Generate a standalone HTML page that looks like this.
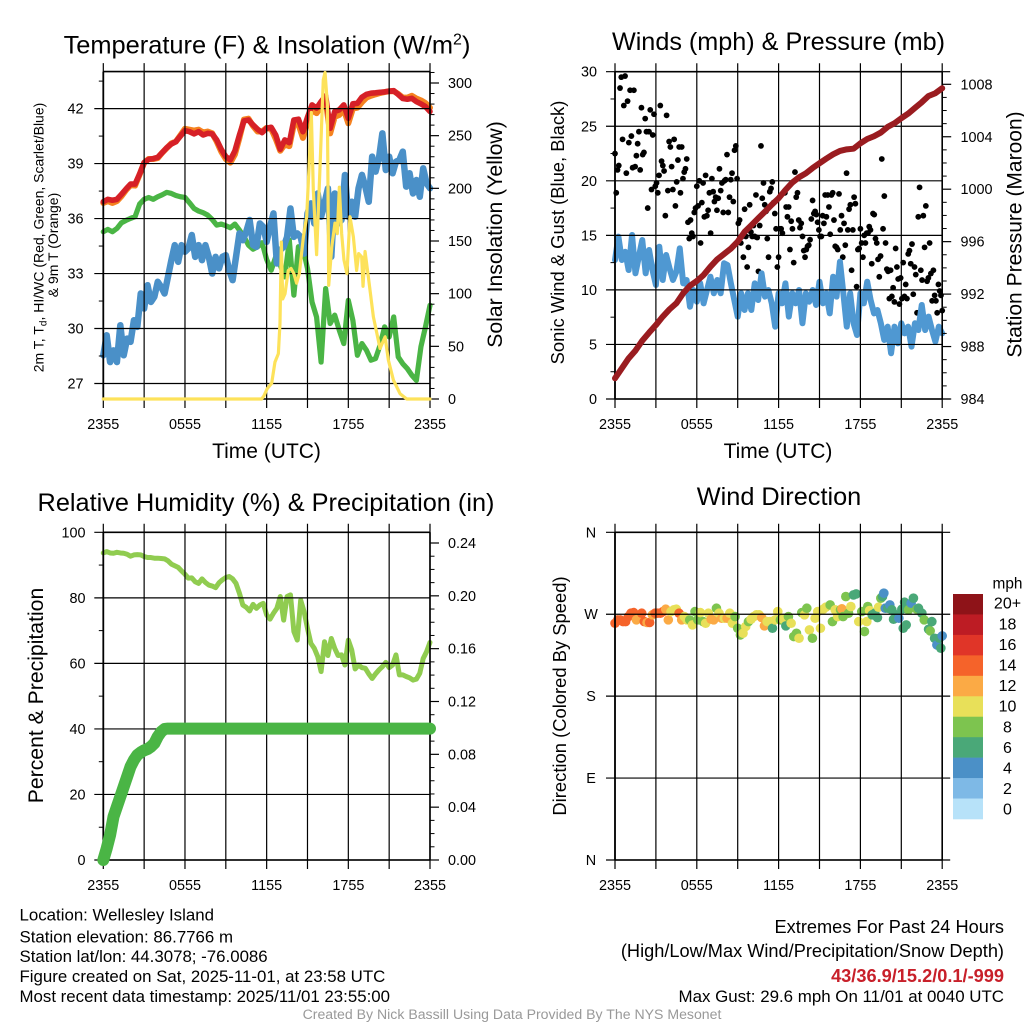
<!DOCTYPE html>
<html>
<head>
<meta charset="utf-8">
<title>Wellesley Island Meteogram</title>
<style>
html,body{margin:0;padding:0;background:#fff;}
svg{display:block;font-family:"Liberation Sans",sans-serif;fill:#000;}
</style>
</head>
<body>
<svg id="chart" width="1024" height="1024" viewBox="0 0 1024 1024" xmlns="http://www.w3.org/2000/svg">
<rect x="0" y="0" width="1024" height="1024" fill="#fff"/>

<g id="p1-left"></g>
<g id="p1-grid"></g>
<g id="p1-right"></g>
<g id="p2-left"></g>
<g id="p2-grid"></g>
<g id="p2-right"></g>
<g id="p3-left"></g>
<g id="p3-grid"></g>
<g id="p3-right"></g>
<g id="p4-left"></g>
<g id="p4-grid"></g>
<g id="legend"></g>

<text x="267" y="53.5" font-size="25.4" text-anchor="middle">Temperature (F) &amp; Insolation (W/m<tspan font-size="16" dy="-9">2</tspan><tspan dy="9">)</tspan></text>
<text x="778.5" y="50" font-size="25.2" text-anchor="middle">Winds (mph) &amp; Pressure (mb)</text>
<text x="266" y="511" font-size="25.3" text-anchor="middle">Relative Humidity (%) &amp; Precipitation (in)</text>
<text x="779" y="505" font-size="25.3" text-anchor="middle">Wind Direction</text>

<text x="266.5" y="458" font-size="21" text-anchor="middle">Time (UTC)</text>
<text x="778" y="458" font-size="21" text-anchor="middle">Time (UTC)</text>

<text transform="translate(43.5,237.5) rotate(-90)" font-size="14" text-anchor="middle">2m T, T<tspan font-size="10" dy="3">d</tspan><tspan dy="-3">, HI/WC (Red, Green, Scarlet/Blue)</tspan></text>
<text transform="translate(58,245) rotate(-90)" font-size="14" text-anchor="middle">&amp; 9m T (Orange)</text>
<text transform="translate(502,234.5) rotate(-90)" font-size="21.2" text-anchor="middle">Solar Insolation (Yellow)</text>
<text transform="translate(564,232.5) rotate(-90)" font-size="18.4" text-anchor="middle">Sonic Wind &amp; Gust (Blue, Black)</text>
<text transform="translate(1021.5,234.5) rotate(-90)" font-size="21" text-anchor="middle">Station Pressure (Maroon)</text>
<text transform="translate(43,695.5) rotate(-90)" font-size="21.2" text-anchor="middle">Percent &amp; Precipitation</text>
<text transform="translate(566,696) rotate(-90)" font-size="18.4" text-anchor="middle">Direction (Colored By Speed)</text>

<g font-size="16.85">
<text x="19.5" y="920.7">Location: Wellesley Island</text>
<text x="19.5" y="942.5">Station elevation: 86.7766 m</text>
<text x="19.5" y="962">Station lat/lon: 44.3078; -76.0086</text>
<text x="19.5" y="982">Figure created on Sat, 2025-11-01, at 23:58 UTC</text>
<text x="19.5" y="1002">Most recent data timestamp: 2025/11/01 23:55:00</text>
</g>
<g font-size="18.2" text-anchor="end">
<text x="1004" y="933">Extremes For Past 24 Hours</text>
<text x="1004" y="957">(High/Low/Max Wind/Precipitation/Snow Depth)</text>
<text x="1004" y="982" font-weight="bold" font-size="18.2" fill="#c8202a">43/36.9/15.2/0.1/-999</text>
<text x="1004" y="1002" font-size="16.9">Max Gust: 29.6 mph On 11/01 at 0040 UTC</text>
</g>
<text x="512" y="1019" font-size="14.1" text-anchor="middle" fill="#999">Created By Nick Bassill Using Data Provided By The NYS Mesonet</text>
</svg>

<script>
const hourTicks = [0, 3, 6, 9, 12, 15, 18, 21, 24];
const hourLabelValues = [0, 6, 12, 18, 24];
const hourLabels = ['2355', '0555', '1155', '1755', '2355'];

const tempTicks = [27, 30, 33, 36, 39, 42];
const tempMinorTicks = [28.5, 31.5, 34.5, 37.5, 40.5, 43.5];
const solarTicks = [0, 50, 100, 150, 200, 250, 300];
const solarMinorTicks = [10, 20, 30, 40, 60, 70, 80, 90, 110, 120, 130, 140, 160, 170, 180, 190, 210, 220, 230, 240, 260, 270, 280, 290, 310];
const windTicks = [0, 5, 10, 15, 20, 25, 30];
const windMinorTicks = [2.5, 7.5, 12.5, 17.5, 22.5, 27.5];
const pressureTicks = [984, 988, 992, 996, 1000, 1004, 1008];
const pressureMinorTicks = [985, 986, 987, 989, 990, 991, 993, 994, 995, 997, 998, 999, 1001, 1002, 1003, 1005, 1006, 1007];
const rhTicks = [0, 20, 40, 60, 80, 100];
const rhMinorTicks = [10, 30, 50, 70, 90];
const precipTicks = [0, 0.04, 0.08, 0.12, 0.16, 0.20, 0.24];
const precipMinorTicks = [0.01, 0.02, 0.03, 0.05, 0.06, 0.07, 0.09, 0.10, 0.11, 0.13, 0.14, 0.15, 0.17, 0.18, 0.19, 0.21, 0.22, 0.23];
const dirTicks = [0, 90, 180, 270, 360];
const dirLabels = ['N', 'E', 'S', 'W', 'N'];

const temp2m = [36.92,37.05,37.0,37.05,37.32,37.61,37.88,37.88,38.43,39.05,39.23,39.27,39.34,39.6,39.87,40.07,40.2,40.5,40.8,40.74,40.62,40.74,40.56,40.65,40.62,40.29,39.78,39.38,39.2,39.69,40.56,41.33,41.38,41.11,40.87,40.69,40.93,40.98,40.56,39.78,40.29,40.14,41.38,41.42,40.74,41.53,42.2,42.02,42.38,42.69,40.93,41.84,41.93,42.2,41.47,42.26,42.29,42.62,42.78,42.84,42.86,42.89,42.91,42.95,42.98,42.77,42.55,42.51,42.56,42.38,42.26,42.11,41.84];
const temp9m = [36.85,36.95,36.85,36.95,37.22,37.55,37.82,37.8,38.4,39.05,39.25,39.25,39.3,39.6,39.85,40.1,40.2,40.55,40.9,40.85,40.8,40.85,40.7,40.75,40.65,40.2,39.65,39.25,39.05,39.5,40.4,41.4,41.45,41.05,40.75,40.75,40.95,40.9,40.35,39.7,40.05,39.95,41.15,41.15,40.4,41.25,41.95,41.75,42.1,42.45,40.65,41.55,41.65,41.95,41.2,42.0,42.05,42.35,42.6,42.7,42.78,42.85,42.9,42.95,42.95,42.8,42.6,42.6,42.7,42.55,42.45,42.3,42.05];
const dewpoint = [35.28,35.41,35.28,35.46,35.77,35.9,36.01,36.1,36.79,37.05,37.15,37.05,37.19,37.3,37.43,37.37,37.26,37.19,37.15,36.86,36.55,36.41,36.32,36.19,35.95,35.64,35.7,35.61,35.5,35.7,35.37,35.01,34.55,34.33,34.46,34.68,33.77,33.18,33.91,33.46,32.82,34.82,31.82,34.46,34.37,33.28,31.45,30.63,28.17,32.18,30.27,30.73,29.91,29.18,31.54,30.45,28.54,29.18,28.81,28.27,28.36,29.09,30.09,29.54,30.63,28.45,28.08,27.81,27.45,27.17,29.0,30.09,31.27];
const windChill = [28.54,29.63,28.17,28.81,28.17,30.18,28.54,29.45,29.27,30.45,30.09,31.91,31.09,32.36,31.45,31.73,32.55,32.27,31.91,32.82,33.73,34.55,33.64,34.55,34.19,34.37,35.1,33.91,34.55,33.73,34.55,33.91,33.0,33.91,33.28,33.91,34.0,33.18,32.64,33.91,35.19,34.82,35.28,35.92,34.55,34.46,35.73,35.55,34.73,35.55,36.28,33.55,34.28,34.46,35.0,36.55,35.0,35.19,35.0,34.09,36.28,36.83,35.73,37.37,36.1,36.83,37.65,33.91,37.37,35.73,35.92,38.38,36.1,36.92,36.1,37.65,38.38,37.74,36.92,39.38,38.56,39.29,40.65,38.65,39.38,38.47,39.1,39.2,39.65,37.74,38.47,37.37,38.1,37.19,38.74,37.92,37.65];
const solarHours = [0,11.63,11.8,12.05,12.37,12.61,12.86,12.98,13.08,13.18,13.35,13.59,13.79,14.0,14.2,14.4,14.7,14.94,15.14,15.28,15.43,15.67,15.92,16.16,16.29,16.46,16.56,16.78,17.02,17.19,17.34,17.51,17.68,17.9,18.12,18.37,18.61,18.76,18.98,19.08,19.23,19.47,19.84,20.33,20.7,20.94,21.31,21.8,22.29,24];
const solarValues = [0,0,3,10,15,35,43,72,149,95,100,122,124,119,110,119,154,173,227,272,198,137,220,303,310,280,108,144,167,157,201,157,132,119,173,154,122,138,135,107,140,116,78,48,59,37,18,5,0,0];

const gustValues = [22.5,18.9,21.0,21.4,28.5,29.5,23.8,26.9,29.6,20.7,27.3,23.5,28.3,24.1,21.2,28.3,21.3,22.3,23.4,24.5,21.0,26.7,22.4,22.6,25.7,24.5,17.5,24.5,26.5,19.2,24.2,26.1,19.5,19.8,18.9,20.5,26.9,21.8,21.4,20.9,16.8,26.0,19.1,23.6,23.1,21.3,19.2,23.8,17.7,19.9,21.9,23.1,18.9,23.1,20.2,20.8,21.1,22.0,16.2,14.7,16.4,15.2,14.9,17.1,17.5,19.5,17.7,20.0,14.3,18.0,19.8,16.7,20.5,16.8,17.3,18.9,15.2,20.2,19.0,18.1,18.5,17.3,18.4,21.1,19.1,19.8,17.1,20.0,20.1,22.4,17.1,18.5,20.1,20.7,18.1,22.8,23.2,20.2,16.1,16.4,14.3,14.9,13.0,17.4,14.9,12.1,13.9,17.8,15.3,14.9,15.9,14.9,18.7,14.8,11.7,15.9,23.2,18.4,19.8,17.8,17.2,14.7,13.0,19.0,19.3,19.9,18.0,17.0,15.6,12.1,13.0,15.6,15.6,15.2,9.9,18.9,17.6,16.7,17.6,13.7,16.3,15.6,12.5,20.8,18.5,18.9,16.4,15.7,16.1,14.9,13.6,13.0,13.7,14.0,14.1,14.6,16.5,18.2,17.0,17.2,16.9,16.2,15.5,14.9,14.9,16.8,16.1,18.7,16.7,18.7,17.6,15.1,18.7,18.9,16.4,14.0,13.9,13.7,18.8,15.5,16.8,13.0,16.1,14.1,20.7,15.5,17.4,17.8,11.8,15.5,18.5,17.9,10.3,13.7,13.8,15.6,14.3,13.0,15.0,14.3,15.2,15.2,15.8,15.5,12.4,17.0,16.9,14.7,14.3,12.8,11.2,13.1,22.0,15.6,18.6,14.3,11.9,11.7,9.2,11.8,9.4,10.2,8.9,13.8,12.1,11.0,8.7,11.1,9.2,12.5,9.4,10.5,9.2,13.3,13.6,12.4,14.2,9.6,12.1,11.4,7.9,16.7,19.4,11.8,10.9,16.8,13.9,17.7,10.8,11.1,14.3,11.5,9.0,11.8,9.5,9.0,7.9,10.5,9.9,9.5,8.1];
const windSpeed = [12.74,14.88,12.74,13.5,11.82,15.03,11.52,13.05,14.57,11.52,13.66,11.82,10.45,13.96,10.91,13.2,11.98,10.91,11.67,13.81,10.6,10.91,8.46,9.99,8.92,10.6,8.77,9.99,11.21,9.69,10.91,9.69,12.44,12.28,10.6,9.07,7.55,9.69,8.16,9.69,8.16,10.6,9.07,11.52,9.38,9.99,8.77,6.63,9.69,8.77,10.6,7.55,9.69,8.77,9.99,6.94,9.69,8.92,9.99,8.62,10.75,8.77,9.69,7.85,11.21,9.38,12.59,9.69,6.63,9.69,6.94,5.87,9.69,8.77,10.75,9.07,7.85,8.16,6.94,5.41,6.63,4.19,6.63,5.1,6.94,6.02,6.63,4.8,6.94,6.32,8.62,6.32,7.55,6.32,5.26,6.63,6.02];
const pressure = [985.58,986.34,987.10,987.69,988.45,989.06,989.64,990.28,990.84,991.30,992.06,992.64,993.0,993.46,994.09,994.65,995.06,995.47,996.0,996.74,997.25,997.78,998.29,998.82,999.31,999.94,1000.5,1000.91,1001.21,1001.62,1001.98,1002.33,1002.66,1002.92,1003.04,1003.09,1003.5,1003.83,1004.04,1004.32,1004.75,1005.03,1005.41,1005.76,1006.2,1006.63,1007.11,1007.32,1007.7];

const humidity = [93.7,94.1,93.7,93.6,93.9,93.7,93.6,93.3,92.7,93.1,93.2,93.1,92.6,92.3,92.3,92.1,92.1,92.0,91.9,91.3,90.3,89.8,89.3,88.2,87.2,86.0,86.1,84.9,84.4,85.8,84.7,83.9,83.6,83.1,84.6,85.5,86.2,86.5,85.8,84.4,81.4,77.8,77.1,76.0,78.0,76.8,77.8,78.3,74.8,73.5,75.3,76.8,80.4,73.2,80.4,80.9,69.7,67.1,79.3,75.8,70.7,66.1,64.6,62.1,57.5,66.6,62.4,67.6,64.6,62.4,62.6,59.5,67.1,64.1,58.3,59.5,58.7,58.5,56.8,55.4,56.8,58.0,59.0,60.3,58.7,59.5,62.6,56.5,56.5,56.0,55.6,54.9,55.2,57.0,61.5,63.6,66.4];
const precipHours = [0,0.25,0.5,0.75,1,1.25,1.5,1.75,2,2.25,2.5,2.75,3,3.25,3.5,3.75,4,4.25,4.5,4.75,6,9,12,15,18,21,24];
const precipValues = [0,0.0088,0.0189,0.0328,0.0404,0.0479,0.0555,0.0631,0.0707,0.0757,0.0795,0.0815,0.083,0.084,0.0858,0.0883,0.0934,0.0971,0.0992,0.0995,0.0995,0.0995,0.0995,0.0995,0.0995,0.0995,0.0995];

const dirHours = [0,0.2,0.39,0.59,0.78,0.98,1.17,1.37,1.57,1.76,1.96,2.15,2.35,2.54,2.74,2.94,3.13,3.33,3.52,3.72,3.91,4.11,4.31,4.5,4.7,4.89,5.09,5.28,5.48,5.68,5.87,6.07,6.26,6.46,6.65,6.85,7.05,7.24,7.44,7.63,7.83,8.02,8.22,8.42,8.61,8.81,9.0,9.2,9.39,9.59,9.79,9.98,10.18,10.37,10.57,10.76,10.96,11.16,11.35,11.55,11.74,11.94,12.13,12.33,12.53,12.72,12.92,13.11,13.31,13.5,13.7,13.9,14.07,14.26,14.48,14.68,14.87,15.07,15.27,15.46,15.78,15.95,16.15,16.34,16.54,16.64,16.73,16.93,17.13,17.3,17.49,17.69,17.88,18.1,18.3,18.47,18.54,18.67,18.86,19.06,19.25,19.33,19.5,19.62,19.72,19.82,20.01,20.16,20.31,20.43,20.62,20.82,21.04,21.14,21.24,21.36,21.53,21.72,21.89,22.14,22.26,22.51,22.68,23.0,23.12,23.24,23.44,23.61,23.8,23.9,24];
const dirDegrees = [260.1,263.8,263.8,261.9,261.9,267.4,271.1,271.8,263.8,265.6,271.1,261.9,260.9,260.9,269.3,271.1,271.1,271.1,272.9,275.5,263.8,272.9,274.8,275.5,271.1,263.8,267.4,263.8,263.8,258.3,272.9,263.8,271.8,261.9,260.1,271.1,264.5,263.8,276.6,271.1,265.6,265.6,265.6,271.1,260.1,267.4,254.6,247.3,249.1,256.5,261.9,264.5,267.4,269.3,269.3,266.3,257.2,261.9,261.9,254.6,263.8,272.9,263.8,264.5,257.2,267.4,260.1,245.5,249.1,243.6,271.8,269.3,276.6,252.8,243.6,265.6,272.9,254.6,275.5,277.7,280.2,261.9,274.8,267.4,274.8,275.9,267.4,289.4,271.1,278.4,291.2,292.3,261.9,272.9,251,261.9,278.4,274,269.3,271.1,266.3,277.7,287.6,289.4,293.1,276.6,276.6,280.2,274.8,264.5,269.3,265.6,275.5,254.6,283.2,258.3,274.8,282.1,287.6,275.5,276.6,271.1,263.8,253.5,251.7,261.9,243.6,236.3,243.6,232.7,246.2];
const dirSpeeds = [14,14,14,14,14,14,14,14,12,12,14,14,12,14,12,14,14,14,14,12,12,10,10,10,14,12,10,10,8,10,8,8,10,8,10,10,12,12,8,10,12,10,12,10,10,8,8,8,10,10,8,10,10,10,10,12,12,10,10,6,10,10,8,10,6,8,10,8,8,10,8,10,8,10,8,10,10,10,10,10,8,8,10,10,8,12,8,8,8,10,6,6,10,8,8,10,8,10,6,6,6,10,8,6,4,4,6,4,6,6,6,4,6,6,6,6,8,4,6,8,6,6,8,6,8,6,6,4,6,6,4];

const legendColors = ['#b7e2f9', '#7eb9e6', '#4b90c7', '#4aa878', '#7dc44f', '#e8e059', '#fbaa45', '#f5632a', '#e03528', '#bd1c24', '#8e1318'];
const legendLabels = ['0', '2', '4', '6', '8', '10', '12', '14', '16', '18', '20+'];

const NS = 'http://www.w3.org/2000/svg';
const linear = (d0, d1, r0, r1) => v => r0 + (v - d0) * (r1 - r0) / (d1 - d0);
const uniformHours = values => values.map((v, i) => i / (values.length - 1) * 24);

function addLine(parent, name, x1, y1, x2, y2, width) {
  const el = document.createElementNS(NS, 'line');
  
  
  el.setAttribute('x1', x1);
  el.setAttribute('y1', y1);
  el.setAttribute('x2', x2);
  el.setAttribute('y2', y2);
  el.setAttribute('stroke', '#000');
  el.setAttribute('stroke-width', width);
  parent.appendChild(el);
}
function addText(parent, name, x, y, str, anchor, size) {
  const el = document.createElementNS(NS, 'text');
  
  
  el.setAttribute('x', x);
  el.setAttribute('y', y);
  el.setAttribute('text-anchor', anchor);
  el.setAttribute('font-size', size);
  el.textContent = str;
  parent.appendChild(el);
}
function addSeries(parent, name, hours, values, xScale, yScale, color, width) {
  const el = document.createElementNS(NS, 'path');
  
  
  const d = values.map((v, i) => (i ? 'L' : 'M') + xScale(hours[i]).toFixed(2) + ' ' + yScale(v).toFixed(2)).join('');
  el.setAttribute('d', d);
  el.setAttribute('fill', 'none');
  el.setAttribute('stroke', color);
  el.setAttribute('stroke-width', width);
  el.setAttribute('stroke-linejoin', 'round');
  el.setAttribute('stroke-linecap', 'round');
  parent.appendChild(el);
}
function addDot(parent, name, cx, cy, r, color) {
  const el = document.createElementNS(NS, 'circle');
  
  
  el.setAttribute('cx', cx.toFixed(2));
  el.setAttribute('cy', cy.toFixed(2));
  el.setAttribute('r', r);
  el.setAttribute('fill', color);
  parent.appendChild(el);
}

const TICK_FONT = 14.4;
function drawAxes(g, prefix, box, xScale, leftScale, leftTicks, leftMinor, leftLabel, leftLabelX, rightScale, rightTicks, rightMinor, rightLabel, rightLabelX, leftOver) {
  hourTicks.forEach(h => addLine(g, prefix + '-time-gridline', xScale(h), box.T - 8.5, xScale(h), box.B + 9, 1.2));
  hourLabelValues.forEach((h, i) => addText(g, prefix + '-time-tick-label', xScale(h), box.B + 30, hourLabels[i], 'middle', TICK_FONT));
  leftTicks.forEach((v, i) => {
    addLine(g, prefix + '-left-gridline', box.L - 9, leftScale(v), box.R + leftOver, leftScale(v), 1.2);
    addText(g, prefix + '-left-tick-label', leftLabelX, leftScale(v) + 5, leftLabel(v, i), prefix === 'direction' ? 'middle' : 'end', TICK_FONT);
  });
  leftMinor.forEach(v => addLine(g, prefix + '-left-minor-tick', box.L - 4.5, leftScale(v), box.L, leftScale(v), 1));
  if (rightScale) {
    rightTicks.forEach(v => {
      addLine(g, prefix + '-right-tick', box.R, rightScale(v), box.R + 9, rightScale(v), 1.2);
      addText(g, prefix + '-right-tick-label', rightLabelX, rightScale(v) + 5, rightLabel(v), 'start', TICK_FONT);
    });
    rightMinor.forEach(v => addLine(g, prefix + '-right-minor-tick', box.R, rightScale(v), box.R + 4.5, rightScale(v), 1));
  }
  addLine(g, prefix + '-frame-left', box.L, box.T, box.L, box.B, 1.8);
  addLine(g, prefix + '-frame-right', box.R, box.T, box.R, box.B, 1.6);
  addLine(g, prefix + '-frame-top', box.L, box.T, box.R, box.T, 1.6);
  addLine(g, prefix + '-frame-bottom', box.L, box.B, box.R, box.B, 1.6);
}

const $ = id => document.getElementById(id);

/* Temperature and insolation panel */
const box1 = { L: 103.3, R: 430, T: 71.6, B: 399 };
const x1 = linear(0, 24, box1.L, box1.R);
const yTemp = linear(27, 42, 383.5, 108.6);
const ySolar = linear(0, 300, 399, 83);
addSeries($('p1-left'), 'series-9m-temperature', uniformHours(temp9m), temp9m, x1, yTemp, '#f58220', 6);
addSeries($('p1-left'), 'series-2m-temperature', uniformHours(temp2m), temp2m, x1, yTemp, '#d62027', 5.6);
addSeries($('p1-left'), 'series-dewpoint', uniformHours(dewpoint), dewpoint, x1, yTemp, '#4ab545', 5.2);
addSeries($('p1-left'), 'series-wind-chill', uniformHours(windChill), windChill, x1, yTemp, '#4a90c8', 6.5);
drawAxes($('p1-grid'), 'temperature', box1, x1, yTemp, tempTicks, tempMinorTicks, v => String(v), 83.5, ySolar, solarTicks, solarMinorTicks, v => String(v), 448, 0);
addSeries($('p1-right'), 'series-solar-insolation', solarHours, solarValues, x1, ySolar, '#fde25a', 3.2);

/* Winds and pressure panel */
const box2 = { L: 615, R: 942.2, T: 71.7, B: 399 };
const x2 = linear(0, 24, box2.L, box2.R);
const yWind = linear(0, 30, 399, 71.7);
const yPressure = linear(984, 1008, 399, 84.3);
const gustHours = uniformHours(gustValues);
gustValues.forEach((v, i) => addDot($('p2-left'), 'gust-point', x2(gustHours[i]), yWind(v), 2.9, '#000'));
addSeries($('p2-left'), 'series-sonic-wind', uniformHours(windSpeed), windSpeed, x2, yWind, '#4f98d2', 6);
drawAxes($('p2-grid'), 'winds', box2, x2, yWind, windTicks, windMinorTicks, v => String(v), 597, yPressure, pressureTicks, pressureMinorTicks, v => String(v), 960.5, 0);
addLine($('p2-grid'), 'winds-top-tick-right', box2.R, box2.T, box2.R + 8, box2.T, 1.2);
addLine($('p2-grid'), 'winds-bottom-tick-right', box2.R, box2.B, box2.R + 8, box2.B, 1.2);
addSeries($('p2-right'), 'series-station-pressure', uniformHours(pressure), pressure, x2, yPressure, '#9a1c20', 6);

/* Humidity and precipitation panel */
const box3 = { L: 103.3, R: 430, T: 532.3, B: 860 };
const x3 = linear(0, 24, box3.L, box3.R);
const yRh = linear(0, 100, 860, 532.3);
const yPrecip = linear(0, 0.24, 860, 543);
addSeries($('p3-left'), 'series-relative-humidity', uniformHours(humidity), humidity, x3, yRh, '#90cc50', 5);
drawAxes($('p3-grid'), 'humidity', box3, x3, yRh, rhTicks, rhMinorTicks, v => String(v), 85.5, yPrecip, precipTicks, precipMinorTicks, v => v.toFixed(2), 448, 0);
addSeries($('p3-right'), 'series-precipitation', precipHours, precipValues, x3, yPrecip, '#4ab545', 12);

/* Wind direction panel */
const box4 = { L: 615, R: 942.2, T: 532.3, B: 860 };
const x4 = linear(0, 24, box4.L, box4.R);
const yDir = linear(0, 360, 860, 532.3);
dirDegrees.forEach((v, i) => {
  const bin = Math.min(legendColors.length - 1, Math.round(dirSpeeds[i] / 2));
  addDot($('p4-left'), 'wind-direction-point', x4(dirHours[i]), yDir(v), 4.8, legendColors[bin]);
});
drawAxes($('p4-grid'), 'direction', box4, x4, yDir, dirTicks, [], (v, i) => dirLabels[i], 591, null, [], [], null, 0, 8);

/* Speed legend */
const legendTop = 594, legendBoxHeight = 225 / legendColors.length;
legendColors.slice().reverse().forEach((color, i) => {
  const el = document.createElementNS(NS, 'rect');
  
  
  el.setAttribute('x', 953);
  el.setAttribute('y', legendTop + i * legendBoxHeight);
  el.setAttribute('width', 30);
  el.setAttribute('height', legendBoxHeight + 0.3);
  el.setAttribute('fill', color);
  $('legend').appendChild(el);
});
legendLabels.slice().reverse().forEach((label, i) => {
  addText($('legend'), 'legend-label', 1007.5, 608.7 + i * 20.6, label, 'middle', 16);
});
addText($('legend'), 'legend-unit', 1007.5, 588.5, 'mph', 'middle', 15.4);
</script>
</body>
</html>
